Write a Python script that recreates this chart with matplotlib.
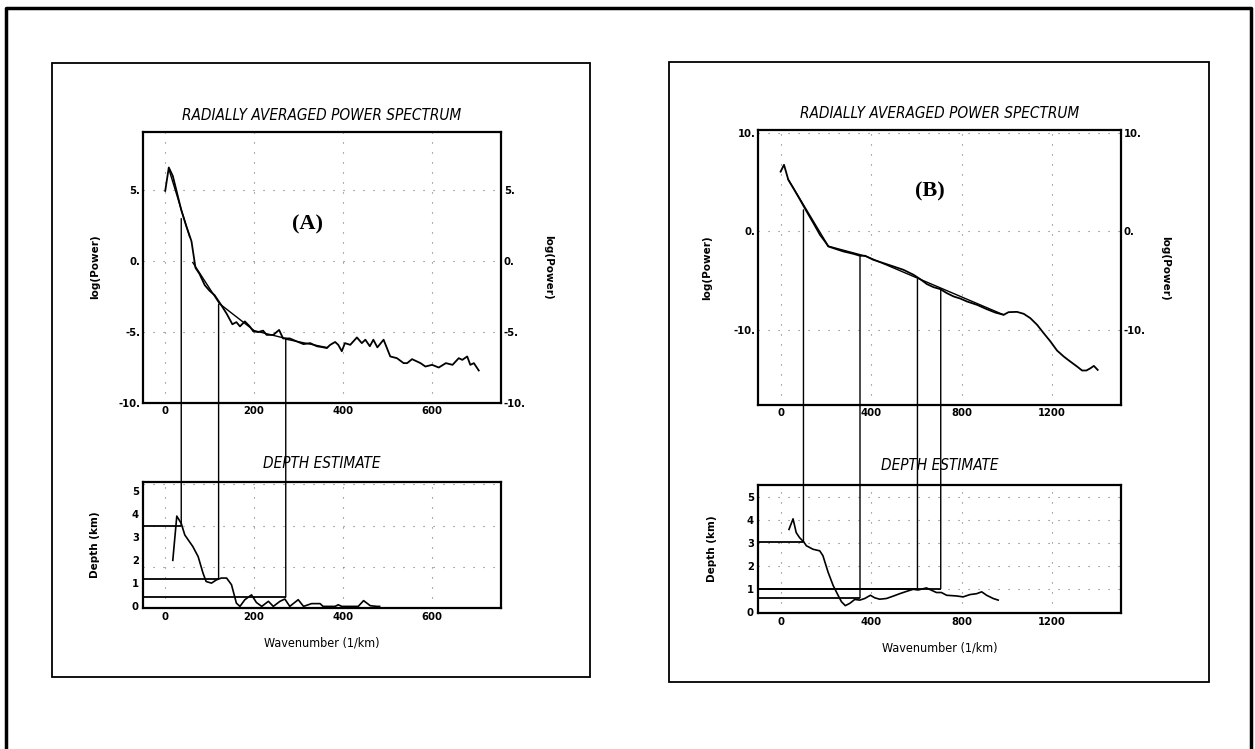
import matplotlib.pyplot as plt
from matplotlib.patches import Rectangle, ConnectionPatch
from matplotlib.lines import Line2D

# ---- panel A : radially averaged power spectrum ----
wave_a = [0, 8, 17, 25, 36, 47, 59, 68, 77, 89, 100, 111, 126, 138, 151, 160, 168,
          179, 190, 198, 209, 220, 228, 243, 256, 265, 280, 295, 311, 326, 341,
          356, 363, 371, 382, 389, 397, 404, 416, 431, 442, 450, 460, 468, 477,
          491, 506, 521, 536, 544, 555, 574, 585, 600, 615, 631, 646, 660, 668,
          679, 686, 694, 705]
logp_a = [4.95, 6.6, 6.0, 5.0, 3.6, 2.5, 1.4, -0.47, -0.9, -1.7, -2.1, -2.4, -3.1,
          -3.7, -4.45, -4.3, -4.6, -4.25, -4.6, -4.95, -5.0, -4.9, -5.2, -5.2,
          -4.85, -5.45, -5.45, -5.65, -5.85, -5.78, -6.0, -6.08, -6.13, -5.9,
          -5.7, -5.9, -6.35, -5.78, -5.9, -5.38, -5.78, -5.54, -6.0, -5.54,
          -6.08, -5.54, -6.72, -6.84, -7.19, -7.19, -6.91, -7.19, -7.43, -7.31,
          -7.5, -7.19, -7.31, -6.84, -6.96, -6.72, -7.31, -7.19, -7.71]
fit_a_x = [[8, 55], [62, 122], [122, 200], [200, 271], [271, 365]]
fit_a_y = [[6.5, 1.7], [-0.1, -3.0], [-3.0, -4.9], [-4.9, -5.45], [-5.5, -6.1]]

# ---- panel A : depth estimate ----
dwave_a = [17, 26, 36, 44, 62, 74, 85, 92, 104, 115, 126, 138, 149, 160, 168, 179,
           194, 205, 217, 232, 243, 258, 269, 280, 299, 311, 329, 348, 355, 382,
           389, 397, 434, 446, 461, 476, 482]
depth_a = [2.0, 3.92, 3.6, 3.1, 2.6, 2.16, 1.44, 1.08, 1.01, 1.15, 1.23, 1.23, 0.94,
           0.14, 0.0, 0.29, 0.5, 0.17, 0.0, 0.22, 0.0, 0.22, 0.32, 0.0, 0.29, 0.0,
           0.12, 0.12, 0.0, 0.0, 0.07, 0.0, 0.0, 0.25, 0.03, 0.0, 0.0]
pick_a_x = [36, 120, 271]          # wavenumber of the picked breaks
pick_a_p = [3.0, -3.05, -5.5]      # log(power) where the break is picked
pick_a_d = [3.5, 1.2, 0.4]         # resulting depth (km)

# ---- panel B : radially averaged power spectrum ----
wave_b = [0, 15, 34, 56, 86, 115, 145, 174, 196, 211, 233, 278, 322, 351, 373, 410,
          455, 499, 543, 588, 617, 647, 676, 706, 735, 765, 794, 824, 868, 912,
          949, 986, 1008, 1045, 1075, 1104, 1134, 1163, 1193, 1222, 1252, 1281,
          1311, 1333, 1352, 1370, 1385, 1402]
logp_b = [6.1, 6.8, 5.27, 4.42, 3.23, 2.04, 0.85, -0.34, -1.02, -1.53, -1.7, -2.04,
          -2.28, -2.48, -2.48, -2.89, -3.23, -3.57, -3.91, -4.42, -4.86, -5.37,
          -5.68, -5.88, -6.29, -6.63, -6.84, -7.14, -7.48, -7.93, -8.27, -8.5,
          -8.23, -8.2, -8.4, -8.84, -9.52, -10.37, -11.22, -12.14, -12.76,
          -13.27, -13.78, -14.18, -14.18, -13.95, -13.71, -14.12]
fit_b_x = [[34, 211], [211, 373], [373, 986]]
fit_b_y = [[5.3, -1.5], [-1.5, -2.5], [-2.48, -8.5]]

# ---- panel B : depth estimate ----
dwave_b = [37, 55, 69, 84, 102, 114, 143, 173, 187, 210, 232, 254, 269, 286, 306,
           328, 350, 372, 397, 416, 438, 468, 497, 527, 557, 586, 608, 645, 667,
           689, 711, 734, 778, 807, 837, 867, 889, 911, 940, 962]
depth_b = [3.6, 4.06, 3.46, 3.24, 3.06, 2.89, 2.74, 2.67, 2.46, 1.74, 1.17, 0.74,
           0.46, 0.29, 0.39, 0.56, 0.53, 0.6, 0.74, 0.63, 0.57, 0.6, 0.7, 0.81,
           0.91, 1.0, 0.97, 1.06, 0.96, 0.86, 0.86, 0.74, 0.71, 0.67, 0.77, 0.81,
           0.89, 0.74, 0.6, 0.53]
pick_b_x = [101, 351, 605, 708]
pick_b_p = [2.2, -2.55, -4.86, -5.88]
pick_b_d = [3.06, 0.63, 1.03, 1.03]

# tick labels
xt_a = [0, 200, 400, 600]
yt_a = [-10, -5, 0, 5]
ytl_a = ['-10.', '-5.', '0.', '5.']
xt_b = [0, 400, 800, 1200]
yt_b = [-10, 0, 10]
ytl_b = ['-10.', '0.', '10.']
yt_d = [0, 1, 2, 3, 4, 5]

W, H = 1255, 749
fig = plt.figure(figsize=(W / 100, H / 100), dpi=100)

NARROW = dict(family='DejaVu Sans', fontstretch='condensed')


def box(x0, y0, x1, y1):
    # pixel box -> figure fraction [left, bottom, width, height]
    return [x0 / W, 1 - y1 / H, (x1 - x0) / W, (y1 - y0) / H]


def ftext(px, py, s, **kw):
    fig.text(px / W, 1 - py / H, s, ha='center', va='center', **kw)


def style(ax, xt, yt, ytl, right=False):
    ax.set_xticks(xt)
    ax.set_xticklabels([str(v) for v in xt], fontsize=8, fontweight='bold',
                       **NARROW)
    ax.set_yticks(yt)
    ax.set_yticklabels(ytl, fontsize=8, fontweight='bold', **NARROW)
    ax.tick_params(length=0, pad=3)
    if right:
        ax.tick_params(labelright=True, pad=2)
    for sp in ax.spines.values():
        sp.set_linewidth(1.6)
    ax.set_axisbelow(True)


def draw_panel(x0, x1, top, dep, wave, logp, fx, fy, dwave, depth,
               px, pp, pd, xlim, ylim, xt, yt, ytl, tag, tag_xy):
    ax1 = fig.add_axes(box(x0, top[0], x1, top[1]))
    ax2 = fig.add_axes(box(x0, dep[0], x1, dep[1]))

    ax1.plot(wave, logp, color='black', lw=1.3)
    for xs, ys in zip(fx, fy):
        ax1.plot(xs, ys, color='black', lw=1.0)
    ax1.set_xlim(xlim)
    ax1.set_ylim(ylim)
    style(ax1, xt, yt, ytl, right=True)
    ax1.grid(True, ls=(0, (1, 8)), color='0.45', lw=0.8)
    ax1.text(tag_xy[0], tag_xy[1], tag, ha='center', va='center',
             family='Liberation Serif', fontweight='bold', fontsize=16)

    ax2.plot(dwave, depth, color='black', lw=1.2)
    ax2.set_xlim(xlim)
    style(ax2, xt, yt_d, [str(v) for v in yt_d])
    for xv, dv in zip(px, pd):
        ax2.hlines(dv, xlim[0], xv, color='black', lw=1.3)

    for xv, pv, dv in zip(px, pp, pd):
        con = ConnectionPatch(xyA=(xv, pv), coordsA=ax1.transData,
                              xyB=(xv, dv), coordsB=ax2.transData,
                              color='black', lw=1.0)
        fig.add_artist(con)
    return ax1, ax2


# ---------- panel A ----------
a1, a2 = draw_panel(143, 501, (132, 403), (482, 608), wave_a, logp_a,
                    fit_a_x, fit_a_y, dwave_a, depth_a,
                    pick_a_x, pick_a_p, pick_a_d, (-50, 755), (-10, 9.1),
                    xt_a, yt_a, ytl_a, '(A)', (320, 2.6))
a2.set_ylim(-0.07, 5.4)
a2.set_yticks([1.7, 3.5, 5.3], minor=True)
a2.tick_params(which='minor', length=0)
a2.grid(True, which='minor', axis='y', ls=(0, (1, 8)), color='0.45', lw=0.8)
a2.grid(True, which='major', axis='x', ls=(0, (1, 8)), color='0.45', lw=0.8)

# ---------- panel B ----------
b1, b2 = draw_panel(758, 1121, (130, 405), (485, 613), wave_b, logp_b,
                    fit_b_x, fit_b_y, dwave_b, depth_b,
                    pick_b_x, pick_b_p, pick_b_d, (-100, 1505), (-17.7, 10.35),
                    xt_b, yt_b, ytl_b, '(B)', (658, 4.1))
b2.set_ylim(-0.03, 5.53)
b2.grid(True, ls=(0, (1, 8)), color='0.45', lw=0.8)

# ---------- titles and labels ----------
tkw = dict(style='italic', fontsize=11, **NARROW)
ftext(322, 115, 'RADIALLY AVERAGED POWER SPECTRUM', **tkw)
ftext(322, 463, 'DEPTH ESTIMATE', **tkw)
ftext(940, 113, 'RADIALLY AVERAGED POWER SPECTRUM', **tkw)
ftext(940, 465, 'DEPTH ESTIMATE', **tkw)

lkw = dict(family='DejaVu Sans', fontweight='bold', fontsize=7.5)
ftext(95, 267, 'log(Power)', rotation=90, **lkw)
ftext(548, 267, 'log(Power)', rotation=-90, **lkw)
ftext(95, 545, 'Depth (km)', rotation=90, **lkw)
ftext(707, 268, 'log(Power)', rotation=90, **lkw)
ftext(1165, 268, 'log(Power)', rotation=-90, **lkw)
ftext(712, 549, 'Depth (km)', rotation=90, **lkw)

xkw = dict(fontsize=9, **NARROW)
ftext(322, 643, 'Wavenumber (1/km)', **xkw)
ftext(940, 648, 'Wavenumber (1/km)', **xkw)

# ---------- frames ----------
fig.add_artist(Rectangle((52 / W, 1 - 677 / H), 538 / W, 614 / H,
                         transform=fig.transFigure, fill=False, lw=1.3,
                         color='black'))
fig.add_artist(Rectangle((669 / W, 1 - 682 / H), 540 / W, 620 / H,
                         transform=fig.transFigure, fill=False, lw=1.3,
                         color='black'))
fig.add_artist(Line2D([6 / W, 6 / W, 1251 / W, 1251 / W],
                      [0, 1 - 8 / H, 1 - 8 / H, 0],
                      transform=fig.transFigure, color='black', lw=2.5))

fig.savefig('out.png', dpi=100, facecolor='white')
